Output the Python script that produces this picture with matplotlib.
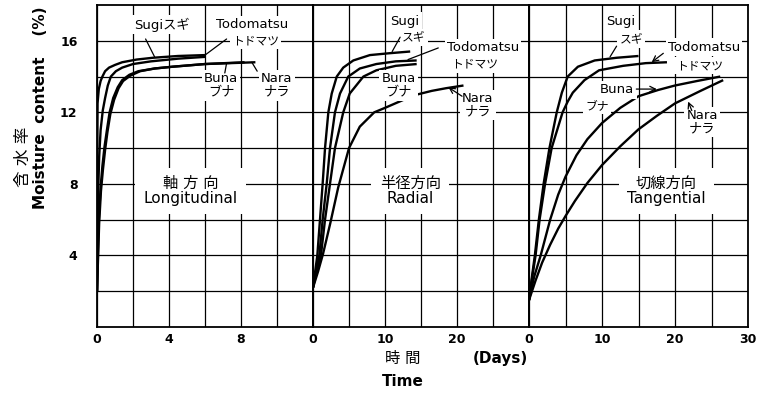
import matplotlib
matplotlib.use("Agg")
import matplotlib.pyplot as plt

plt.rcParams['font.family'] = ['DejaVu Sans', 'Noto Sans CJK JP']

# --- 軸方向 Longitudinal (days, moisture %) ---
lon_sugi_t = [0, 0.01, 0.03, 0.1, 0.2, 0.3, 0.45, 0.67, 1.0, 1.4, 2.2, 3.1, 4.5, 6.0]
lon_sugi_m = [2.0, 9.0, 12.5, 13.3, 13.75, 14.0, 14.3, 14.5, 14.65, 14.8, 14.95, 15.05, 15.15, 15.2]
lon_todo_t = [0, 0.05, 0.12, 0.2, 0.32, 0.45, 0.6, 0.77, 1.05, 1.4, 2.0, 3.0, 4.5, 6.0]
lon_todo_m = [2.0, 7.0, 9.5, 11.0, 12.1, 12.8, 13.5, 14.0, 14.3, 14.5, 14.7, 14.85, 15.0, 15.1]
lon_buna_t = [0, 0.1, 0.2, 0.3, 0.42, 0.55, 0.7, 0.9, 1.15, 1.4, 1.8, 2.3, 3.2, 4.2, 6.0, 8.2]
lon_buna_m = [2.0, 6.0, 7.8, 9.0, 10.1, 11.0, 12.0, 12.8, 13.4, 13.8, 14.1, 14.3, 14.45, 14.55, 14.7, 14.8]
lon_nara_t = [0, 0.12, 0.22, 0.33, 0.45, 0.58, 0.74, 0.95, 1.2, 1.45, 1.85, 2.4, 3.2, 4.2, 6.0, 8.8]
lon_nara_m = [2.0, 5.8, 7.6, 8.8, 9.9, 10.9, 11.9, 12.7, 13.35, 13.75, 14.05, 14.3, 14.45, 14.55, 14.7, 14.8]

# --- 半径方向 Radial ---
rad_sugi_t = [0, 0.3, 0.6, 0.97, 1.34, 1.67, 2.13, 2.6, 3.3, 4.2, 5.6, 7.9, 10.5, 13.5]
rad_sugi_m = [2.2, 3.1, 4.0, 6.0, 8.0, 10.0, 12.0, 13.05, 14.0, 14.5, 14.9, 15.2, 15.3, 15.4]
rad_todo_t = [0, 0.4, 0.88, 1.34, 1.9, 2.36, 3.05, 3.75, 4.9, 6.5, 8.8, 11.5, 14.4]
rad_todo_m = [2.2, 3.1, 4.0, 6.0, 8.0, 10.0, 12.0, 13.05, 14.0, 14.45, 14.7, 14.85, 14.9]
rad_buna_t = [0, 0.5, 1.1, 1.67, 2.36, 3.05, 4.2, 5.1, 7.0, 8.8, 11.5, 14.4]
rad_buna_m = [2.2, 3.1, 4.0, 6.0, 8.0, 10.0, 12.0, 13.05, 14.0, 14.35, 14.6, 14.7]
rad_nara_t = [0, 0.7, 1.4, 2.4, 3.5, 5.0, 6.5, 8.5, 10.0, 12.0, 14.0, 16.5, 18.5, 20.9]
rad_nara_m = [2.2, 3.1, 4.1, 5.8, 7.8, 10.0, 11.2, 12.0, 12.25, 12.6, 12.95, 13.2, 13.35, 13.5]

# --- 切線方向 Tangential ---
tan_sugi_t = [0, 0.4, 0.8, 1.35, 2.0, 2.8, 3.8, 4.5, 5.3, 6.7, 9.0, 12.0, 15.0]
tan_sugi_m = [1.5, 2.8, 4.0, 6.0, 8.0, 10.0, 12.0, 13.1, 14.0, 14.55, 14.9, 15.05, 15.15]
tan_todo_t = [0, 0.45, 0.9, 1.45, 2.2, 3.1, 4.6, 5.3, 6.0, 7.6, 9.6, 12.9, 16.0, 18.9]
tan_todo_m = [1.5, 2.8, 4.0, 6.0, 8.0, 10.0, 12.0, 12.6, 13.1, 13.8, 14.35, 14.6, 14.75, 14.8]
tan_buna_t = [0, 0.7, 1.6, 2.9, 4.0, 5.0, 6.5, 8.0, 10.0, 12.5, 15.0, 17.7, 20.0, 23.0, 26.2]
tan_buna_m = [1.5, 2.8, 4.0, 6.0, 7.4, 8.4, 9.6, 10.5, 11.4, 12.25, 12.9, 13.25, 13.5, 13.75, 14.0]
tan_nara_t = [0, 0.9, 1.8, 2.9, 4.0, 5.0, 6.3, 8.0, 10.0, 12.5, 15.0, 17.5, 20.0, 23.5, 26.6]
tan_nara_m = [1.5, 2.6, 3.6, 4.6, 5.5, 6.2, 7.05, 8.05, 9.05, 10.1, 11.05, 11.8, 12.5, 13.2, 13.8]

y_ticks = [4, 8, 12, 16]
lon_ticks = [0, 4, 8]
rad_ticks = [0, 10, 20]
tan_ticks = [0, 10, 20, 30]

W, H = 762, 401
fig = plt.figure(figsize=(W / 100, H / 100), dpi=100)


def panel(x0, x1, xmax, step, labelled):
    ax = fig.add_axes([x0 / W, 1 - 327 / H, (x1 - x0) / W, 322 / H])
    ax.set_xlim(0, xmax)
    ax.set_ylim(0, 18)
    grid_x = list(range(0, xmax + 1, step))
    ax.set_xticks(grid_x)
    ax.set_xticklabels([str(v) if v in labelled else '' for v in grid_x],
                       fontsize=9, fontweight='bold')
    ax.set_yticks(range(2, 18, 2))
    ax.grid(True, color='black', linewidth=0.9)
    ax.tick_params(length=0, pad=4)
    for s in ax.spines.values():
        s.set_linewidth(1.3)
    return ax


ax1 = panel(97, 313, 12, 2, lon_ticks)
ax2 = panel(313, 529, 30, 5, rad_ticks)
ax3 = panel(529, 748, 30, 5, tan_ticks)
ax1.set_yticklabels([str(v) if v in y_ticks else '' for v in range(2, 18, 2)],
                    fontsize=9, fontweight='bold')
ax1.tick_params(axis='y', pad=14)
for ax in (ax2, ax3):
    ax.tick_params(axis='y', labelleft=False)

curves = [
    (ax1, [(lon_sugi_t, lon_sugi_m), (lon_todo_t, lon_todo_m),
           (lon_buna_t, lon_buna_m), (lon_nara_t, lon_nara_m)]),
    (ax2, [(rad_sugi_t, rad_sugi_m), (rad_todo_t, rad_todo_m),
           (rad_buna_t, rad_buna_m), (rad_nara_t, rad_nara_m)]),
    (ax3, [(tan_sugi_t, tan_sugi_m), (tan_todo_t, tan_todo_m),
           (tan_buna_t, tan_buna_m), (tan_nara_t, tan_nara_m)]),
]
for ax, series in curves:
    for t, m in series:
        ax.plot(t, m, color='black', linewidth=1.7, solid_capstyle='butt',
                solid_joinstyle='round', zorder=4)

white = dict(facecolor='white', edgecolor='none', pad=1.5)


def label(ax, x, y, s, size=9.5, **kw):
    ax.text(x, y, s, fontsize=size, ha='center', va='center', bbox=white,
            zorder=5, linespacing=1.0, **kw)


def leader(ax, xy_from, xy_to, style='-'):
    ax.annotate('', xy=xy_to, xytext=xy_from,
                arrowprops=dict(arrowstyle=style, lw=0.9, color='black',
                                shrinkA=0, shrinkB=0), zorder=6)


# species names, longitudinal
label(ax1, 3.6, 16.9, 'Sugiスギ')
leader(ax1, (2.7, 16.1), (3.2, 15.1))
label(ax1, 8.6, 16.9, 'Todomatsu')
label(ax1, 8.8, 16.0, 'トドマツ', size=8.5)
leader(ax1, (7.2, 16.1), (6.0, 15.2))
label(ax1, 6.9, 13.5, 'Buna\nブナ')
leader(ax1, (7.1, 14.2), (7.2, 14.75))
label(ax1, 10.0, 13.5, 'Nara\nナラ')
leader(ax1, (8.9, 14.3), (8.6, 14.8))

# radial
label(ax2, 12.8, 17.1, 'Sugi')
label(ax2, 14.0, 16.2, 'スギ', size=8.5)
leader(ax2, (12.1, 16.2), (11.0, 15.4))
label(ax2, 23.6, 15.6, 'Todomatsu')
label(ax2, 22.4, 14.7, 'トドマツ', size=8.5)
leader(ax2, (17.4, 15.6), (13.2, 14.95))
label(ax2, 11.9, 13.5, 'Buna\nブナ')
label(ax2, 22.9, 12.4, 'Nara\nナラ')
leader(ax2, (20.7, 12.9), (18.8, 13.4), '->')

# tangential
label(ax3, 12.5, 17.1, 'Sugi')
label(ax3, 14.0, 16.1, 'スギ', size=8.5)
leader(ax3, (12.0, 15.7), (11.1, 15.1))
label(ax3, 24.0, 15.65, 'Todomatsu')
label(ax3, 23.4, 14.6, 'トドマツ', size=8.5)
leader(ax3, (18.4, 15.3), (16.8, 14.8), '->')
label(ax3, 12.1, 13.25, 'Buna')
label(ax3, 9.3, 12.4, 'ブナ', size=8.5)
leader(ax3, (14.7, 13.3), (17.5, 13.3), '->')
label(ax3, 23.7, 11.45, 'Nara\nナラ')
leader(ax3, (22.3, 12.1), (21.8, 12.6), '->')

# direction titles
big = dict(facecolor='white', edgecolor='none', pad=6)
for ax, x, jp, en in [(ax1, 5.2, '軸 方 向', 'Longitudinal'),
                      (ax2, 13.5, '半径方向', 'Radial'),
                      (ax3, 18.8, '切線方向', 'Tangential')]:
    ax.text(x, 7.6, jp + '\n' + en, fontsize=11, ha='center', va='center',
            linespacing=1.0, bbox=big, zorder=5)

# axis titles
fig.text(23 / W, 1 - 157 / H, '含 水 率', rotation=90, fontsize=12,
         ha='center', va='center')
fig.text(41 / W, 1 - 108 / H, 'Moisture  content    (%)', rotation=90,
         fontsize=11, fontweight='bold', ha='center', va='center')
fig.text(403 / W, 1 - 358 / H, '時 間', fontsize=11, ha='center', va='center')
fig.text(500 / W, 1 - 358 / H, '(Days)', fontsize=11, fontweight='bold',
         ha='center', va='center')
fig.text(403 / W, 1 - 381 / H, 'Time', fontsize=11, fontweight='bold',
         ha='center', va='center')

fig.savefig('out.png', dpi=100, facecolor='white')
